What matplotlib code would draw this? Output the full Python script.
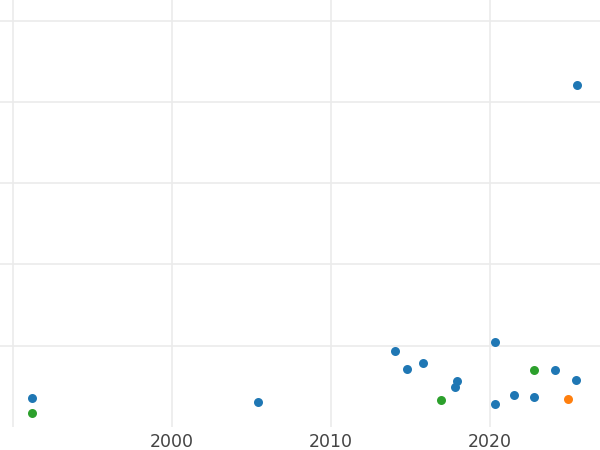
import matplotlib
matplotlib.use('Agg')
import matplotlib.pyplot as plt

# Data (y in arbitrary units, one grid step = 1)
blue_x = [1991.2, 2005.4, 2014.0, 2014.8, 2015.8, 2017.9, 2017.8, 2020.3, 2020.3, 2021.5, 2022.8, 2024.1, 2025.4, 2025.5]
blue_y = [0.357, 0.312, 0.940, 0.710, 0.785, 0.560, 0.497, 1.046, 0.283, 0.398, 0.366, 0.697, 0.578, 4.202]
green_x = [1991.2, 2016.9, 2022.8]
green_y = [0.176, 0.329, 0.697]
orange_x = [2024.9]
orange_y = [0.344]

xticks = [1990, 2000, 2010, 2020]
xticklabels = ['', '2000', '2010', '2020']
yticks = [1, 2, 3, 4, 5]

fig = plt.figure(figsize=(6, 4.5), dpi=100)
ax = fig.add_axes([0, 23 / 450, 1, 427 / 450])

ax.scatter(blue_x, blue_y, s=42, color='#1f77b4', zorder=3, linewidths=0)
ax.scatter(green_x, green_y, s=42, color='#2ca02c', zorder=3, linewidths=0)
ax.scatter(orange_x, orange_y, s=42, color='#ff7f0e', zorder=3, linewidths=0)

ax.set_xlim(1989.18, 2026.92)
ax.set_ylim(0, 427 / 81.3)
ax.set_xticks(xticks)
ax.set_xticklabels(xticklabels)
ax.set_yticks(yticks)
ax.set_yticklabels([])
ax.tick_params(axis='both', length=0, labelsize=12.5, labelcolor='#444444', pad=4)
ax.grid(True, color='#ebebeb', linewidth=1.2)
ax.set_axisbelow(True)
for sp in ax.spines.values():
    sp.set_visible(False)

fig.savefig('out.png', dpi=100)
